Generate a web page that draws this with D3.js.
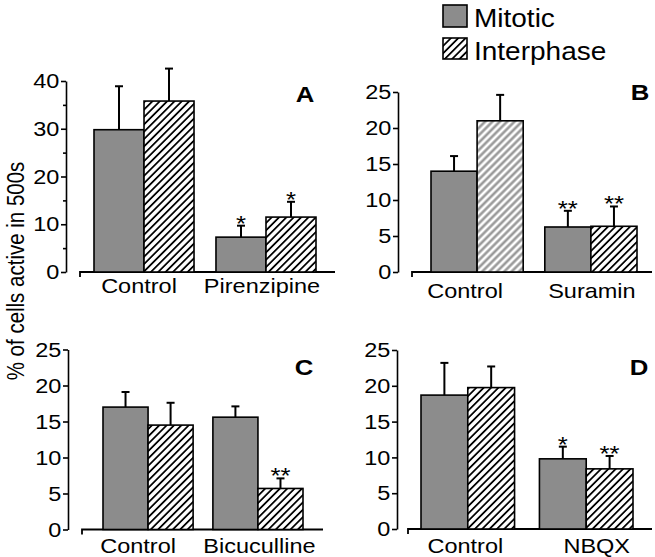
<!DOCTYPE html>
<html>
<head>
<meta charset="utf-8">
<script src="https://cdn.jsdelivr.net/npm/d3@7"></script>
<style>
  html, body { margin: 0; padding: 0; background: #fff; }
  svg { display: block; }
  text { font-family: "Liberation Sans", Arial, Helvetica, sans-serif; fill: #000; }
</style>
</head>
<body>
<svg id="chart" width="655" height="557"></svg>
<script>
// ---------------- DATA ----------------
const seriesNames = ["Mitotic", "Interphase"];
const panelIds = ["A", "B", "C", "D"];
const yTitle = "% of cells active in 500s";

const catsA = ["Control", "Pirenzipine"];
const mitoticA = [29.8, 7.3];
const mitoticErrA = [9.1, 2.4];
const interA = [35.8, 11.5];
const interErrA = [6.8, 3.2];
const sigMitA = ["", "*"];
const sigInterA = ["", "*"];
const yTicksA = [0, 10, 20, 30, 40];
const yMinorA = [5, 15, 25, 35];

const catsB = ["Control", "Suramin"];
const mitoticB = [14.0, 6.25];
const mitoticErrB = [2.1, 2.25];
const interB = [21.0, 6.35];
const interErrB = [3.6, 2.75];
const sigMitB = ["", "**"];
const sigInterB = ["", "**"];
const yTicksB = [0, 5, 10, 15, 20, 25];
const yMinorB = [];

const catsC = ["Control", "Bicuculline"];
const mitoticC = [17.0, 15.6];
const mitoticErrC = [2.1, 1.5];
const interC = [14.5, 5.7];
const interErrC = [3.1, 1.4];
const sigMitC = ["", ""];
const sigInterC = ["", "**"];
const yTicksC = [0, 5, 10, 15, 20, 25];
const yMinorC = [];

const catsD = ["Control", "NBQX"];
const mitoticD = [18.7, 9.8];
const mitoticErrD = [4.5, 1.7];
const interD = [19.75, 8.4];
const interErrD = [2.95, 1.8];
const sigMitD = ["", "*"];
const sigInterD = ["", "**"];
const yTicksD = [0, 5, 10, 15, 20, 25];
const yMinorD = [];

const panelData = {
  A: {cats: catsA, mit: mitoticA, mitErr: mitoticErrA, int: interA, intErr: interErrA, sigM: sigMitA, sigI: sigInterA, ticks: yTicksA, minor: yMinorA},
  B: {cats: catsB, mit: mitoticB, mitErr: mitoticErrB, int: interB, intErr: interErrB, sigM: sigMitB, sigI: sigInterB, ticks: yTicksB, minor: yMinorB},
  C: {cats: catsC, mit: mitoticC, mitErr: mitoticErrC, int: interC, intErr: interErrC, sigM: sigMitC, sigI: sigInterC, ticks: yTicksC, minor: yMinorC},
  D: {cats: catsD, mit: mitoticD, mitErr: mitoticErrD, int: interD, intErr: interErrD, sigM: sigMitD, sigI: sigInterD, ticks: yTicksD, minor: yMinorD}
};

// ---------------- LAYOUT ----------------
const SX = 1.12; // horizontal stretch of the original figure's lettering
const layout = {
  A: {axisX: 66, y0: 272, yTop: 81, bars: [94, 316], pad: 0.18, base: [80, 335], labelY: 293, labelDx: [-5, -4], letter: [305, 102], grayHatch: [false, false]},
  B: {axisX: 398, y0: 272, yTop: 92, bars: [431, 637], pad: 0.19, base: [412, 652], labelY: 298, labelDx: [-12, 1], letter: [640, 100], grayHatch: [true, false]},
  C: {axisX: 68, y0: 529.5, yTop: 349.5, bars: [103, 303], pad: 0.18, base: [82, 323], labelY: 553, labelDx: [-10, 1.5], letter: [304, 375], grayHatch: [false, false]},
  D: {axisX: 397, y0: 529, yTop: 350, bars: [421, 633], pad: 0.21, base: [408, 652], labelY: 553, labelDx: [-2.5, 10.5], letter: [639, 375], grayHatch: [false, false]}
};
const mitFill = "#8c8c8c";

const svg = d3.select("#chart");
const defs = svg.append("defs");

function hatch(id, color, width, spacing) {
  const p = defs.append("pattern").attr("id", id)
    .attr("patternUnits", "userSpaceOnUse")
    .attr("width", spacing).attr("height", spacing)
    .attr("patternTransform", "rotate(45)");
  p.append("rect").attr("width", spacing).attr("height", spacing).attr("fill", "#fff");
  p.append("line").attr("x1", spacing / 2).attr("y1", 0).attr("x2", spacing / 2).attr("y2", spacing)
    .attr("stroke", color).attr("stroke-width", width);
}
hatch("hatchBlack", "#000", 1.8, 5.2);
hatch("hatchGray", "#9a9a9a", 2.6, 5.2);

function stext(g, x, y, str, size, anchor, weight) {
  return g.append("text")
    .attr("transform", `translate(${x},${y}) scale(${SX},1)`)
    .attr("font-size", size)
    .attr("text-anchor", anchor || "start")
    .attr("font-weight", weight || "normal")
    .text(str);
}

panelIds.forEach(id => {
  const d = panelData[id], L = layout[id];
  const g = svg.append("g");
  const yMax = d.ticks[d.ticks.length - 1];
  const y = d3.scaleLinear().domain([0, yMax]).range([L.y0, L.yTop]);
  const x0 = d3.scaleBand().domain(d.cats).range(L.bars).paddingInner(L.pad).paddingOuter(0);
  const x1 = d3.scaleBand().domain(seriesNames).range([0, x0.bandwidth()]).padding(0);

  // y axis
  const ay = g.append("g").attr("transform", `translate(${L.axisX},0)`)
    .call(d3.axisLeft(y).tickValues(d.ticks).tickSize(5).tickSizeOuter(0).tickPadding(1).tickFormat(d3.format("d")));
  ay.select(".domain").attr("stroke-width", 1.6);
  ay.selectAll(".tick line").attr("stroke-width", 1.6);
  ay.selectAll(".tick text").attr("font-size", 21).attr("font-family", "Liberation Sans, Arial, sans-serif")
    .attr("transform", `scale(${SX},1)`);
  if (d.minor.length) {
    const am = g.append("g").attr("transform", `translate(${L.axisX},0)`)
      .call(d3.axisLeft(y).tickValues(d.minor).tickSize(3).tickFormat(""));
    am.select(".domain").remove();
    am.selectAll(".tick line").attr("stroke-width", 1.6);
  }

  // x baseline with small left tick
  g.append("path")
    .attr("d", `M${L.base[0]},${L.y0 + 5}V${L.y0}H${L.base[1]}`)
    .attr("fill", "none").attr("stroke", "#000").attr("stroke-width", 1.8);

  // bars
  d.cats.forEach((c, i) => {
    const gx = x0(c);
    const items = [
      {s: "Mitotic", v: d.mit[i], e: d.mitErr[i], sig: d.sigM[i], fill: mitFill},
      {s: "Interphase", v: d.int[i], e: d.intErr[i], sig: d.sigI[i], fill: L.grayHatch[i] ? "url(#hatchGray)" : "url(#hatchBlack)"}
    ];
    items.forEach(it => {
      const bx = gx + x1(it.s), bw = x1.bandwidth();
      const cx = bx + bw / 2;
      const top = y(it.v), et = y(it.v + it.e);
      g.append("line").attr("x1", cx).attr("x2", cx).attr("y1", top).attr("y2", et)
        .attr("stroke", "#000").attr("stroke-width", 2);
      g.append("line").attr("x1", cx - 4).attr("x2", cx + 4).attr("y1", et).attr("y2", et)
        .attr("stroke", "#000").attr("stroke-width", 2);
      g.append("rect").attr("x", bx).attr("y", top).attr("width", bw).attr("height", L.y0 - top)
        .attr("fill", it.fill).attr("stroke", "#000").attr("stroke-width", 1.6);
      if (it.sig) stext(g, cx, et + 5, it.sig, 23, "middle");
    });
    stext(g, gx + x0.bandwidth() / 2 + L.labelDx[i], L.labelY, c, 21, "middle");
  });

  stext(g, L.letter[0], L.letter[1], id, 23, "middle", "bold");
});

// legend
const leg = svg.append("g");
leg.append("rect").attr("x", 443).attr("y", 5).attr("width", 24).attr("height", 22)
  .attr("fill", mitFill).attr("stroke", "#000").attr("stroke-width", 1.6);
leg.append("rect").attr("x", 443).attr("y", 38).attr("width", 24).attr("height", 21)
  .attr("fill", "url(#hatchBlack)").attr("stroke", "#000").attr("stroke-width", 1.6);
stext(leg, 474, 27, seriesNames[0], 25);
stext(leg, 474, 60, seriesNames[1], 25);

// y title
svg.append("text")
  .attr("transform", `translate(24,271) scale(1.2,1) rotate(-90)`)
  .attr("font-size", 20.5).attr("text-anchor", "middle")
  .text(yTitle);
</script>
</body>
</html>
